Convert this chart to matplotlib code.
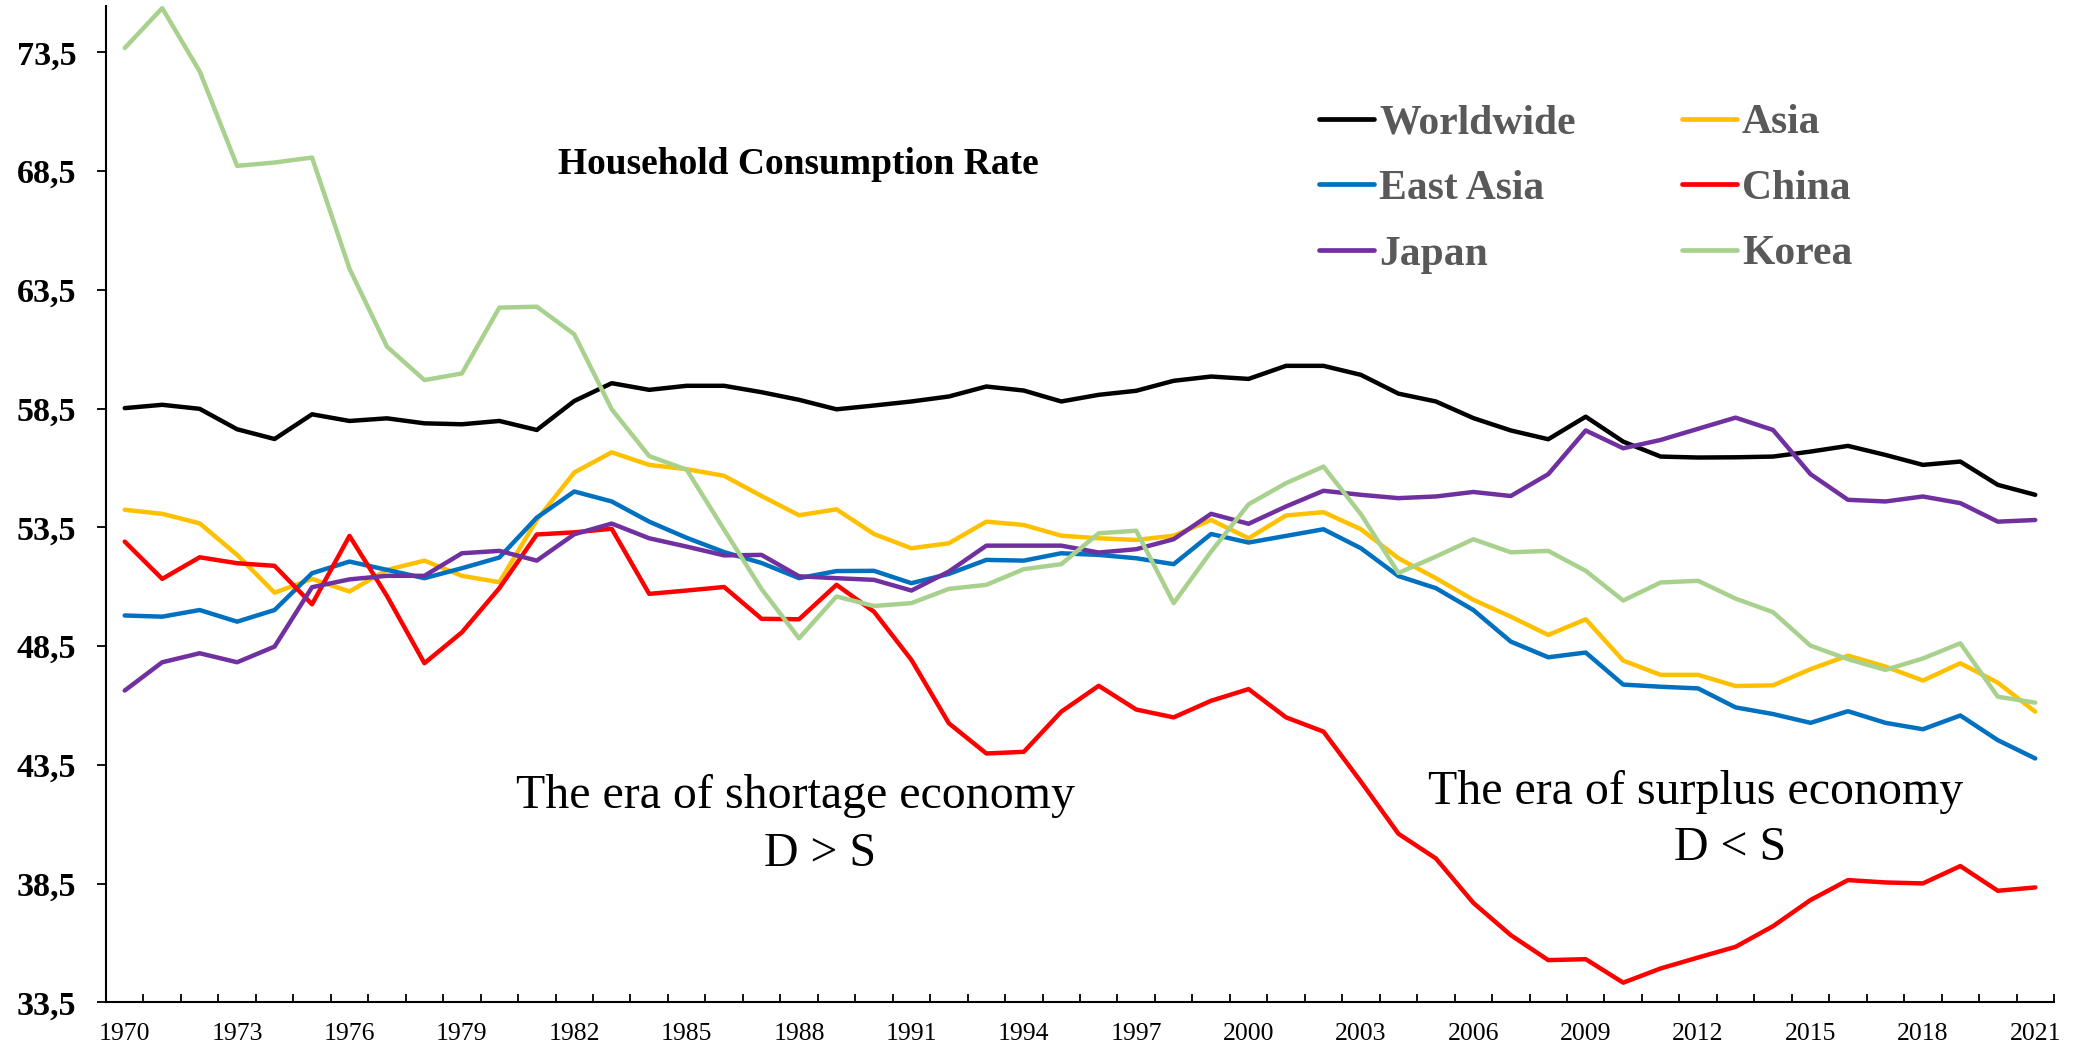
import numpy as np
import matplotlib
matplotlib.use("Agg")
import matplotlib.pyplot as plt
from matplotlib.ticker import FixedLocator

# ---------------- data ----------------
years = list(range(1970, 2022))

worldwide = [58.52, 58.66, 58.49, 57.63, 57.22, 58.26, 57.98, 58.09, 57.88, 57.84,
             57.98, 57.60, 58.82, 59.57, 59.29, 59.46, 59.46, 59.19, 58.87, 58.47,
             58.63, 58.80, 59.01, 59.43, 59.26, 58.80, 59.08, 59.25, 59.67, 59.85,
             59.75, 60.30, 60.30, 59.92, 59.13, 58.80, 58.10, 57.58, 57.21, 58.16,
             57.11, 56.48, 56.44, 56.45, 56.48, 56.69, 56.93, 56.55, 56.13, 56.27,
             55.29, 54.87]

asia = [54.24, 54.07, 53.67, 52.34, 50.75, 51.33, 50.80, 51.71, 52.10, 51.46,
        51.19, 53.81, 55.81, 56.66, 56.13, 55.95, 55.67, 54.82, 54.01, 54.26,
        53.22, 52.62, 52.83, 53.74, 53.60, 53.15, 53.04, 52.97, 53.15, 53.81,
        53.04, 54.00, 54.14, 53.42, 52.20, 51.36, 50.45, 49.74, 48.97, 49.63,
        47.89, 47.29, 47.29, 46.82, 46.85, 47.53, 48.10, 47.64, 47.05, 47.78,
        46.96, 45.74]

east_asia = [49.79, 49.74, 50.02, 49.53, 50.02, 51.57, 52.06, 51.71, 51.36, 51.78,
             52.23, 53.91, 55.01, 54.59, 53.74, 53.06, 52.46, 52.00, 51.36, 51.66,
             51.67, 51.15, 51.54, 52.13, 52.10, 52.41, 52.34, 52.20, 51.95, 53.22,
             52.86, 53.14, 53.42, 52.62, 51.45, 50.94, 50.02, 48.69, 48.03, 48.23,
             46.88, 46.79, 46.72, 45.92, 45.64, 45.27, 45.76, 45.27, 45.00, 45.58,
             44.54, 43.77]

china = [52.90, 51.33, 52.24, 51.99, 51.88, 50.26, 53.14, 50.61, 47.78, 49.08,
         50.94, 53.20, 53.29, 53.44, 50.70, 50.84, 50.99, 49.65, 49.63, 51.08,
         49.95, 47.92, 45.25, 43.98, 44.05, 45.74, 46.83, 45.83, 45.50, 46.20,
         46.69, 45.50, 44.90, 42.79, 40.60, 39.56, 37.69, 36.33, 35.28, 35.32,
         34.33, 34.93, 35.39, 35.84, 36.71, 37.81, 38.65, 38.55, 38.51, 39.24,
         38.20, 38.34]

japan = [46.63, 47.82, 48.20, 47.82, 48.48, 50.98, 51.31, 51.46, 51.46, 52.41,
         52.51, 52.10, 53.21, 53.66, 53.04, 52.69, 52.32, 52.34, 51.44, 51.36,
         51.29, 50.84, 51.64, 52.73, 52.73, 52.73, 52.44, 52.58, 53.00, 54.07,
         53.65, 54.38, 55.04, 54.87, 54.73, 54.80, 54.99, 54.82, 55.74, 57.58,
         56.83, 57.18, 57.65, 58.12, 57.60, 55.74, 54.66, 54.59, 54.80, 54.52,
         53.74, 53.81]

korea = [73.68, 75.36, 72.70, 68.72, 68.86, 69.07, 64.39, 61.11, 59.70, 59.98,
         62.75, 62.79, 61.63, 58.47, 56.50, 55.93, 53.40, 50.90, 48.83, 50.59,
         50.19, 50.31, 50.91, 51.08, 51.74, 51.95, 53.25, 53.36, 50.31, 52.48,
         54.47, 55.36, 56.06, 54.05, 51.58, 52.27, 53.00, 52.45, 52.51, 51.67,
         50.42, 51.18, 51.25, 50.50, 49.93, 48.52, 47.95, 47.50, 47.98, 48.62,
         46.37, 46.12]

series_names = ["Worldwide", "Asia", "East Asia", "China", "Japan", "Korea"]
series_colors = ["#000000", "#FFC000", "#0070C0", "#FF0000", "#7030A0", "#A9D18E"]

y_ticks = [33.5, 38.5, 43.5, 48.5, 53.5, 58.5, 63.5, 68.5, 73.5]
y_tick_labels = ["33,5", "38,5", "43,5", "48,5", "53,5", "58,5", "63,5", "68,5", "73,5"]
x_label_years = list(range(1970, 2022, 3))

title_text = "Household Consumption Rate"
left_note = ["The era of shortage economy", "D > S"]
right_note = ["The era of surplus economy", "D < S"]

# ---------------- figure ----------------
W, H = 2077, 1048
fig = plt.figure(figsize=(W / 100, H / 100), dpi=100)
serif = ["Liberation Serif", "DejaVu Serif"]
plt.rcParams["font.family"] = serif

ax_left, ax_right, ax_top, ax_bottom = 106, 2054, 6, 1002.4
ax = fig.add_axes([ax_left / W, 1 - ax_bottom / H,
                   (ax_right - ax_left) / W, (ax_bottom - ax_top) / H])

all_series = [worldwide, asia, east_asia, china, japan, korea]
handles = {}
for name, col, vals in zip(series_names, series_colors, all_series):
    ln, = ax.plot(years, vals, color=col, lw=3.2,
                  solid_joinstyle="round", solid_capstyle="round", label=name)
    handles[name] = ln

ax.set_xlim(1969.5, 2021.5)
ax.set_ylim(33.5, 75.45)

for s in ["top", "right"]:
    ax.spines[s].set_visible(False)
for s in ["left", "bottom"]:
    ax.spines[s].set_linewidth(1.5)
    ax.spines[s].set_color("black")

# y axis
ax.set_yticks(y_ticks)
ax.set_yticklabels(y_tick_labels, fontsize=24.5, fontweight="bold", family=serif)
ax.tick_params(axis="y", direction="out", length=6.5, width=1.3, pad=15)

# x axis: labels every 3 years, small inward ticks between years
ax.set_xticks(x_label_years)
ax.set_xticklabels([str(y) for y in x_label_years], fontsize=18.5, family=serif)
ax.tick_params(axis="x", which="major", length=0, pad=15)
ax.xaxis.set_minor_locator(FixedLocator([y + 0.5 for y in years]))
ax.tick_params(axis="x", which="minor", direction="in", length=5.5, width=1.3)

# title
fig.text(798 / W, 1 - 174 / H, title_text, ha="center", va="baseline",
         fontsize=27, fontweight="bold", family=serif)

# annotations
fig.text(796 / W, 1 - 808 / H, left_note[0], ha="center", va="baseline",
         fontsize=34.5, family=serif)
fig.text(820 / W, 1 - 866 / H, left_note[1], ha="center", va="baseline",
         fontsize=34.5, family=serif)
fig.text(1696 / W, 1 - 804 / H, right_note[0], ha="center", va="baseline",
         fontsize=34.5, family=serif)
fig.text(1730 / W, 1 - 860 / H, right_note[1], ha="center", va="baseline",
         fontsize=34.5, family=serif)

# legend
order = ["Worldwide", "East Asia", "Japan", "Asia", "China", "Korea"]
leg = fig.legend([handles[n] for n in order], order, ncol=2,
                 loc="upper left", bbox_to_anchor=(1319 / W, 1 - 104 / H),
                 bbox_transform=fig.transFigure, frameon=False,
                 borderpad=0, borderaxespad=0, handlelength=1.32,
                 handletextpad=0.12, columnspacing=2.55, labelspacing=0.66,
                 prop={"family": serif, "weight": "bold", "size": 30})
for t in leg.get_texts():
    t.set_color("#595959")
for l in leg.get_lines():
    l.set_linewidth(3.4)
    l.set_solid_capstyle("round")

fig.savefig("out.png", dpi=100, facecolor="white")
